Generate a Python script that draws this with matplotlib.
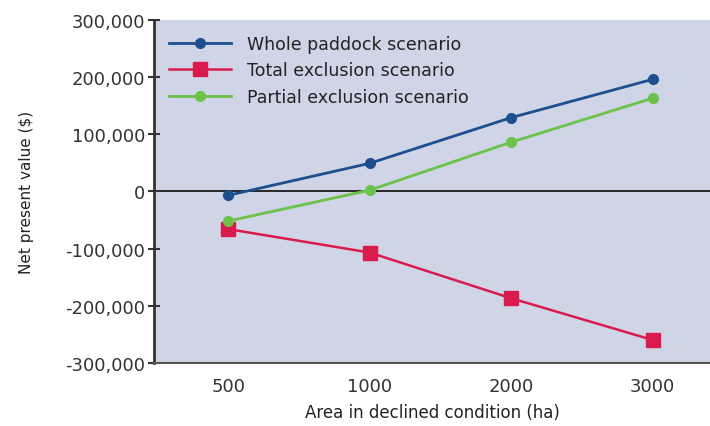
import matplotlib
matplotlib.use("Agg")
import matplotlib.pyplot as plt
from matplotlib.ticker import FuncFormatter

# Area in declined condition (ha) and net present value ($) per scenario
areas = ["500", "1000", "2000", "3000"]
whole_paddock = [-7000, 49000, 129000, 196000]
total_exclusion = [-66000, -107000, -187000, -260000]
partial_exclusion = [-52000, 2000, 86000, 163000]

y_ticks = [-300000, -200000, -100000, 0, 100000, 200000, 300000]

fig = plt.figure(figsize=(7.1, 4.27), dpi=100)
ax = fig.add_axes([0.217, 0.148, 0.783, 0.803])
ax.set_facecolor("#cfd4e7")

x = list(range(len(areas)))
ax.axhline(0, color="#1a1a1a", lw=1.3, zorder=1)

ax.plot(x, whole_paddock, color="#1d4f8f", lw=2, marker="o", ms=7,
        label="Whole paddock scenario", zorder=3)
ax.plot(x, total_exclusion, color="#d81b4c", lw=1.8, marker="s", ms=10,
        label="Total exclusion scenario", zorder=3)
ax.plot(x, partial_exclusion, color="#6cc24a", lw=2, marker="o", ms=7,
        label="Partial exclusion scenario", zorder=3)

ax.set_xlim(-0.523, 3.406)
ax.set_ylim(-300000, 300000)
ax.set_xticks(x)
ax.set_xticklabels(areas)
ax.set_yticks(y_ticks)
ax.yaxis.set_major_formatter(FuncFormatter(lambda v, p: f"{int(v):,}"))

ax.tick_params(axis="y", direction="inout", length=9, width=1.5,
               color="#333333", labelsize=13, labelcolor="#333333", pad=2)
ax.tick_params(axis="x", length=0, labelsize=13, labelcolor="#333333", pad=10)

for side in ("top", "right"):
    ax.spines[side].set_visible(False)
ax.spines["left"].set_color("#333333")
ax.spines["left"].set_linewidth(2)
ax.spines["bottom"].set_color("#555555")
ax.spines["bottom"].set_linewidth(1.5)

ax.set_ylabel("Net present value ($)", fontsize=11, color="#222222", labelpad=22)
ax.set_xlabel("Area in declined condition (ha)", fontsize=12, color="#222222", labelpad=6)

ax.legend(loc="upper left", frameon=False, fontsize=12.5, handlelength=3.6,
          handletextpad=0.9, labelspacing=0.5, borderaxespad=0.4,
          borderpad=0.45, labelcolor="#222222", markerscale=1.0)

fig.savefig("out.png", dpi=100, facecolor="white")
